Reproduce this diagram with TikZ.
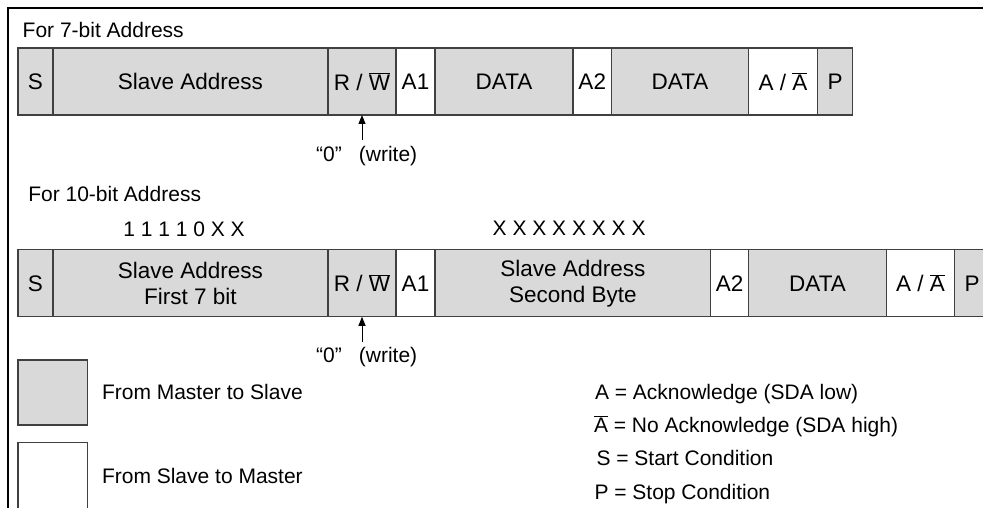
\documentclass[tikz,border=0pt]{standalone}
\usepackage{fontspec}
\setmainfont{Liberation Sans}
\usetikzlibrary{positioning,arrows.meta}
\definecolor{boxgray}{HTML}{D9D9D9}
\definecolor{edgegray}{HTML}{404040}
\newcommand{\ovl}[1]{$\overline{\mbox{#1}}$}
\begin{document}
\begin{tikzpicture}[x=1pt,y=-1pt,font=\fontsize{21}{26}\selectfont,
  cell/.style={draw=edgegray,line width=1.3pt,minimum height=67pt,inner sep=0pt,outer sep=0pt,align=center,anchor=west,font=\fontsize{22.5}{26}\selectfont},
  ms/.style={cell,fill=boxgray},
  sm/.style={cell,fill=white},
  lbl/.style={inner sep=0pt,outer sep=0pt,anchor=base west},
  note/.style={inner sep=0pt,outer sep=0pt,anchor=base},
  ptr/.style={draw=black,line width=1pt,-{Triangle[length=9pt,width=7pt]}},
  framestyle/.style={line width=2pt,draw=black}]
\useasboundingbox (0,0) rectangle (983,508);
\clip (0,0) rectangle (983,508);
\fill[white] (0,0) rectangle (983,508);
\draw[framestyle] (8,520) -- (8,8) -- (990,8);

% ---- 7-bit address
\node[lbl] (t7) at (22.7,37.5) {For 7-bit Address};
\node[ms,minimum width=35pt] (s1) at (18,81.5) {S};
\node[ms,minimum width=275pt,right=0pt of s1] (sa1) {Slave Address};
\node[ms,minimum width=68pt,right=0pt of sa1] (rw1) {R / \ovl{W}};
\node[sm,minimum width=39pt,right=0pt of rw1] (a11) {A1};
\node[ms,minimum width=138pt,right=0pt of a11] (d11) {DATA};
\node[sm,minimum width=38.5pt,right=0pt of d11] (a21) {A2};
\node[ms,minimum width=137pt,right=0pt of a21] (d21) {DATA};
\node[sm,minimum width=69pt,right=0pt of d21] (aa1) {A / \ovl{A}};
\node[ms,minimum width=35pt,right=0pt of aa1] (p1) {P};
\coordinate (t1) at (362,140);
\draw[ptr] (t1) -- (rw1.south);
\node[note] (w1) at (366.7,161) {“0”\hspace{17pt}(write)};

% ---- 10-bit address
\node[lbl] (t10) at (28.3,201) {For 10-bit Address};
\node[lbl] (b1) at (123.3,236) {1 1 1 1 0 X X};
\node[lbl] (b2) at (492.7,235.5) {X X X X X X X X};
\node[ms,minimum width=35pt] (s2) at (18,283.3) {S};
\node[ms,minimum width=275pt,right=0pt of s2] (sa2) {Slave Address\\First 7 bit};
\node[ms,minimum width=68pt,right=0pt of sa2] (rw2) {R / \ovl{W}};
\node[sm,minimum width=39pt,right=0pt of rw2] (a12) {A1};
\node[ms,minimum width=275.7pt,right=0pt of a12] (sb2) {Slave Address\\Second Byte};
\node[sm,minimum width=38pt,right=0pt of sb2] (a22) {A2};
\node[ms,minimum width=137.6pt,right=0pt of a22] (d2) {DATA};
\node[sm,minimum width=68.4pt,right=0pt of d2] (aa2) {A / \ovl{A}};
\node[ms,minimum width=35pt,right=0pt of aa2] (p2) {P};
\coordinate (t2) at (362,342);
\draw[ptr] (t2) -- (rw2.south);
\node[note] (w2) at (366.7,362) {“0”\hspace{17pt}(write)};

% ---- legend
\node[ms,anchor=north west,minimum width=69.7pt,minimum height=65pt] (lg) at (18,360) {};
\node[sm,anchor=north west,minimum width=69.7pt,minimum height=75pt] (lw) at (18,442.7) {};
\node[lbl] (lgt) at (102,399) {From Master to Slave};
\node[lbl] (lwt) at (102,483.5) {From Slave to Master};
\node[lbl] (ka) at (595,399) {A = Acknowledge (SDA low)};
\node[lbl] (kn) at (594,432.5) {\ovl{A} = No Acknowledge (SDA high)};
\node[lbl] (ks) at (596.5,465.5) {S = Start Condition};
\node[lbl] (kp) at (594.5,499) {P = Stop Condition};
\end{tikzpicture}
\end{document}
